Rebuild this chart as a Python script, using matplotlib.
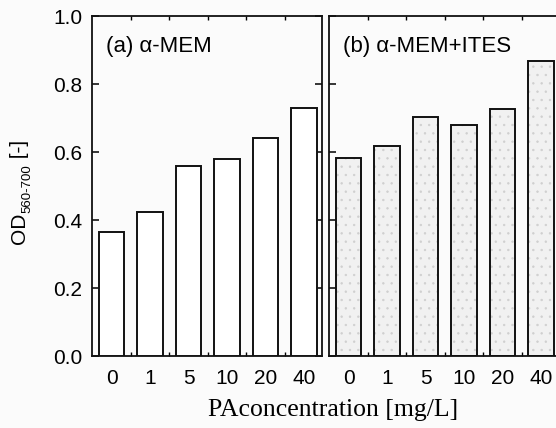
import matplotlib
matplotlib.use("Agg")
import matplotlib.pyplot as plt
import numpy as np

categories = ["0", "1", "5", "10", "20", "40"]
od_mem = [0.365, 0.424, 0.559, 0.579, 0.641, 0.729]
od_mem_ites = [0.582, 0.618, 0.703, 0.679, 0.726, 0.868]
panel_labels = ["(a) α-MEM", "(b) α-MEM+ITES"]
yticks = [0.0, 0.2, 0.4, 0.6, 0.8, 1.0]

plt.rcParams['font.family'] = ['Liberation Sans', 'DejaVu Sans']
plt.rcParams['hatch.linewidth'] = 0.5

fig = plt.figure(figsize=(5.56, 4.28), dpi=100)
fig.patch.set_facecolor('#fbfbfb')

W = 230 / 556
H = 340 / 428
B = (428 - 356) / 428
ax1 = fig.add_axes([92 / 556, B, W, H])
ax2 = fig.add_axes([329 / 556, B, W, H])

x = np.arange(len(categories))
bw = 0.66

ax1.bar(x, od_mem, width=bw, facecolor='white', edgecolor='#111111', linewidth=1.4, zorder=3)
ax2.bar(x, od_mem_ites, width=bw, facecolor='#f1f1f1', edgecolor='#cfcfcf', hatch='..', linewidth=0, zorder=2)
ax2.bar(x, od_mem_ites, width=bw, facecolor='none', edgecolor='#111111', linewidth=1.4, zorder=3)

for ax, lab in zip([ax1, ax2], panel_labels):
    ax.set_facecolor('#fbfbfb')
    ax.set_xlim(-0.51, 5.47)
    ax.set_ylim(0, 1.0)
    ax.set_yticks(yticks)
    ax.set_xticks(x)
    ax.set_xticklabels(categories, fontsize=15)
    ax.tick_params(axis='x', which='major', length=0, pad=9)
    ax.set_xticks(x[:-1] + 0.5, minor=True)
    ax.tick_params(axis='x', which='minor', direction='in', length=3, top=True, bottom=True, width=1)
    ax.tick_params(axis='y', direction='in', length=5, width=1.1, labelsize=15, pad=7)
    for s in ax.spines.values():
        s.set_linewidth(1.3)
        s.set_color('#111111')
    ax.text(0.062, 0.91, lab, transform=ax.transAxes, fontsize=16, va='center', ha='left')

ax1.tick_params(axis='y', right=True)
ax1.set_yticklabels([f"{v:.1f}" for v in yticks])
ax2.tick_params(axis='y', labelleft=False)

# y label: "OD" with subscript "560-700", then "[-]"
ylab_parts = [("OD", 15, 0.0, 8), ("560-700", 9.5, 11 / 556, 0), (" [-]", 15, 0.0, 0)]
renderer = fig.canvas.get_renderer()
ypos = 1 - 244 / 428
x_base = 10 / 556
for txt, fs, dx, _ in ylab_parts:
    t = fig.text(x_base + dx, ypos, txt, rotation=90, ha='left', va='bottom',
                 fontsize=fs, family='Liberation Sans')
    bb = t.get_window_extent(renderer=renderer)
    ypos += bb.height / fig.bbox.height

fig.text(333 / 556, (428 - 410) / 428, 'PAconcentration [mg/L]', ha='center', va='center',
         fontsize=18.5, family=['Liberation Serif', 'DejaVu Serif'])

fig.savefig('out.png', dpi=100, facecolor=fig.get_facecolor())
